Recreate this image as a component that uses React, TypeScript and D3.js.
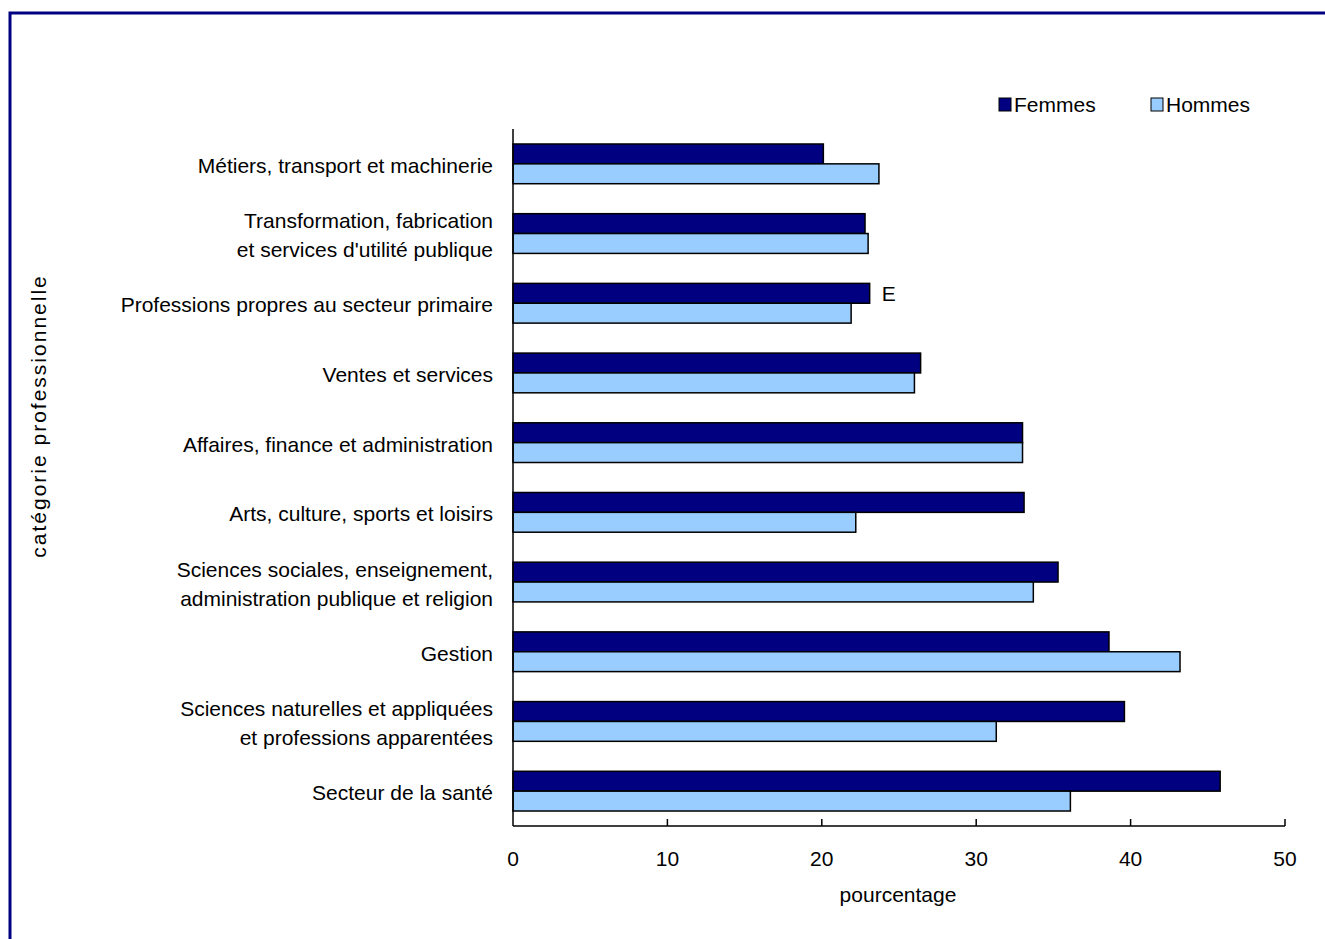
import React from "react";
import * as d3 from "d3";

const categories: string[][] = [
  ["Métiers, transport et machinerie"],
  ["Transformation, fabrication", "et services d'utilité publique"],
  ["Professions propres au secteur primaire"],
  ["Ventes et services"],
  ["Affaires, finance et administration"],
  ["Arts, culture, sports et loisirs"],
  ["Sciences sociales, enseignement,", "administration publique et religion"],
  ["Gestion"],
  ["Sciences naturelles et appliquées", "et professions apparentées"],
  ["Secteur de la santé"],
];
const femmes: number[] = [20.1, 22.8, 23.1, 26.4, 33.0, 33.1, 35.3, 38.6, 39.6, 45.8];
const hommes: number[] = [23.7, 23.0, 21.9, 26.0, 33.0, 22.2, 33.7, 43.2, 31.3, 36.1];
const flags: string[] = ["", "", "E", "", "", "", "", "", "", ""];
const xTicks: number[] = [0, 10, 20, 30, 40, 50];
const seriesNames: string[] = ["Femmes", "Hommes"];
const colors: string[] = ["#000080", "#99CCFF"];

const FONT = "'Liberation Sans', Arial, sans-serif";

export default function App() {
  const W = 1325;
  const H = 939;
  const x = d3.scaleLinear().domain([0, 50]).range([513, 1285]);
  const keys = categories.map((c) => c.join(" "));
  const y = d3.scaleBand<string>().domain(keys).range([129, 826]).paddingInner(0.43).paddingOuter(0.215);
  const sub = d3.scaleBand<string>().domain(seriesNames).range([0, y.bandwidth()]);
  const axisY = 826;
  const lineH = 29;

  return (
    <svg width={W} height={H} style={{ position: "absolute", left: 0, top: 0, background: "#fff" }} fontFamily={FONT}>
      <rect x={0} y={0} width={W} height={H} fill="#fff" />
      <rect x={10} y={13} width={W + 20} height={H + 20} fill="none" stroke="#000080" strokeWidth={3} />

      {/* bars */}
      {keys.map((k, i) => {
        const y0 = y(k)!;
        return (
          <g key={k}>
            {[femmes[i], hommes[i]].map((v, j) => (
              <rect
                key={j}
                x={x(0)}
                y={y0 + sub(seriesNames[j])!}
                width={x(v) - x(0)}
                height={sub.bandwidth()}
                fill={colors[j]}
                stroke="#000"
                strokeWidth={1.5}
              />
            ))}
            {flags[i] && (
              <text x={x(femmes[i]) + 12} y={y0 + sub("Femmes")! + sub.bandwidth() / 2 + 7.5} fontSize={21} fill="#000">
                {flags[i]}
              </text>
            )}
          </g>
        );
      })}

      {/* category labels */}
      {categories.map((lines, i) => {
        const cy = y(keys[i])! + y.bandwidth() / 2 + 1.5;
        const start = cy - ((lines.length - 1) * lineH) / 2;
        return (
          <text key={i} x={493} textAnchor="end" fontSize={21} fill="#000">
            {lines.map((l, j) => (
              <tspan key={j} x={493} y={start + j * lineH + 7.5}>
                {l}
              </tspan>
            ))}
          </text>
        );
      })}

      {/* axes */}
      <line x1={x(0)} x2={x(0)} y1={129} y2={axisY} stroke="#000" strokeWidth={1.5} />
      <line x1={x(0)} x2={x(50)} y1={axisY} y2={axisY} stroke="#000" strokeWidth={1.5} />
      {xTicks.map((t) => (
        <g key={t}>
          {t > 0 && <line x1={x(t)} x2={x(t)} y1={axisY - 7} y2={axisY} stroke="#000" strokeWidth={1.5} />}
          <text x={x(t)} y={866} textAnchor="middle" fontSize={21} fill="#000">
            {t}
          </text>
        </g>
      ))}
      <text x={898} y={902} textAnchor="middle" fontSize={21} fill="#000">
        pourcentage
      </text>
      <text transform={`translate(46,416) rotate(-90)`} textAnchor="middle" fontSize={21} letterSpacing={2} fill="#000">
        catégorie professionnelle
      </text>

      {/* legend */}
      {seriesNames.map((s, j) => {
        const lx = [999, 1151][j];
        return (
          <g key={s}>
            <rect x={lx} y={98} width={12} height={13} fill={colors[j]} stroke="#000" strokeWidth={1} />
            <text x={lx + 15} y={112} fontSize={21} fill="#000">
              {s}
            </text>
          </g>
        );
      })}
    </svg>
  );
}
